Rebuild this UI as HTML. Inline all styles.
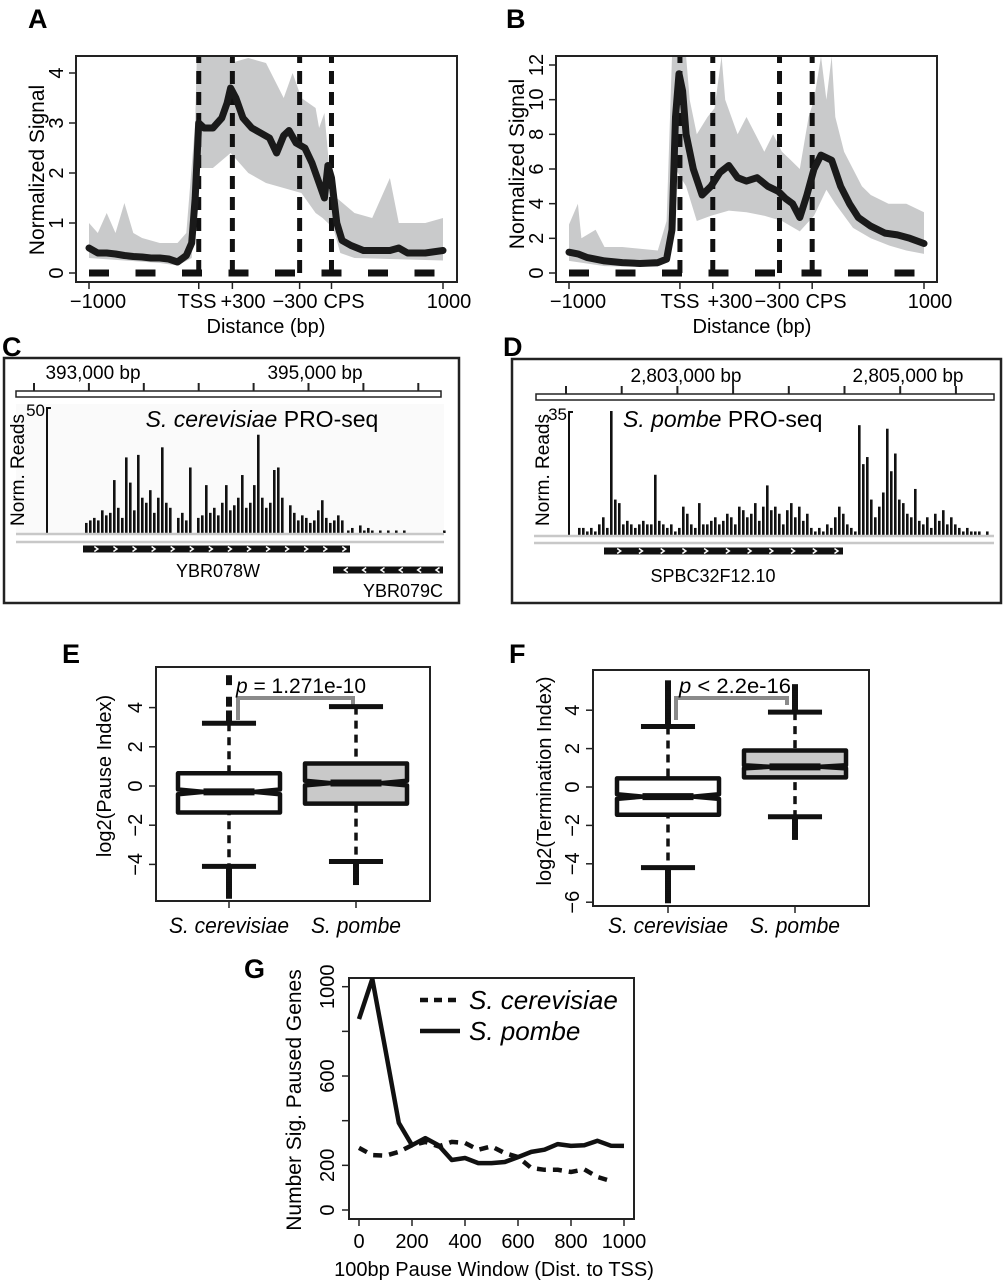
<!DOCTYPE html>
<html><head><meta charset="utf-8"><style>
html,body{margin:0;padding:0;background:#fff}
svg{display:block;font-family:"Liberation Sans",Arial,sans-serif}
</style></head><body>
<svg id="fig" width="1003" height="1280" viewBox="0 0 1003 1280" xmlns="http://www.w3.org/2000/svg">
<defs>
<clipPath id="clipA"><rect x="76" y="56" width="381" height="226"/></clipPath>
<clipPath id="clipB"><rect x="556" y="56" width="381" height="226"/></clipPath>
<clipPath id="clipG"><rect x="349" y="978" width="285" height="241"/></clipPath>
</defs>
<!-- Panel A -->
<g>
<text x="28" y="28" font-size="27" font-weight="bold">A</text>
<g id="plotA" clip-path="url(#clipA)"></g>
<rect x="76" y="56" width="381" height="226" fill="none" stroke="#222" stroke-width="2"/>
<g id="axA"></g>
<text transform="translate(44,170) rotate(-90)" text-anchor="middle" font-size="21">Normalized Signal</text>
<text x="266" y="333" text-anchor="middle" font-size="20">Distance (bp)</text>
</g>
<!-- Panel B -->
<g>
<text x="506" y="28" font-size="27" font-weight="bold">B</text>
<g id="plotB" clip-path="url(#clipB)"></g>
<rect x="556" y="56" width="381" height="226" fill="none" stroke="#222" stroke-width="2"/>
<g id="axB"></g>
<text transform="translate(524,164) rotate(-90)" text-anchor="middle" font-size="21">Normalized Signal</text>
<text x="752" y="333" text-anchor="middle" font-size="20">Distance (bp)</text>
</g>
<!-- Panel C -->
<g>
<text x="2" y="356" font-size="27" font-weight="bold">C</text>
<rect x="4" y="358" width="455" height="245" fill="#fff" stroke="#222" stroke-width="2.5"/>
<rect x="16" y="391" width="425" height="6" fill="#fff" stroke="#222" stroke-width="1.5"/>
<g id="rulerC"></g>
<text x="93" y="379" text-anchor="middle" font-size="19">393,000 bp</text>
<text x="315" y="379" text-anchor="middle" font-size="19">395,000 bp</text>
<rect x="16" y="404" width="428" height="129" fill="#fafafa"/>
<line x1="47" y1="407" x2="47" y2="533" stroke="#111" stroke-width="2"/>
<line x1="47" y1="408" x2="51" y2="408" stroke="#111" stroke-width="2"/>
<text x="45" y="416" text-anchor="end" font-size="17">50</text>
<text transform="translate(24,470) rotate(-90)" text-anchor="middle" font-size="19">Norm. Reads</text>
<text x="262" y="427" text-anchor="middle" font-size="23"><tspan font-style="italic">S. cerevisiae</tspan> PRO-seq</text>
<g id="barsC"></g>
<line x1="16" y1="534" x2="444" y2="534" stroke="#c8c8c8" stroke-width="2.5"/>
<line x1="16" y1="542" x2="444" y2="542" stroke="#c8c8c8" stroke-width="2.5"/>
<g id="geneC1"></g>
<text x="218" y="577" text-anchor="middle" font-size="18">YBR078W</text>
<g id="geneC2"></g>
<text x="443" y="597" text-anchor="end" font-size="18">YBR079C</text>
</g>
<!-- Panel D -->
<g>
<text x="503" y="356" font-size="27" font-weight="bold">D</text>
<rect x="512" y="359" width="489" height="244" fill="#fff" stroke="#222" stroke-width="2.5"/>
<rect x="536" y="394" width="458" height="6" fill="#fff" stroke="#222" stroke-width="1.5"/>
<g id="rulerD"></g>
<text x="686" y="382" text-anchor="middle" font-size="19">2,803,000 bp</text>
<text x="908" y="382" text-anchor="middle" font-size="19">2,805,000 bp</text>
<line x1="569" y1="411" x2="569" y2="535" stroke="#111" stroke-width="2"/>
<line x1="569" y1="412" x2="573" y2="412" stroke="#111" stroke-width="2"/>
<text x="567" y="420" text-anchor="end" font-size="17">35</text>
<text transform="translate(549,470) rotate(-90)" text-anchor="middle" font-size="19">Norm. Reads</text>
<text x="623" y="427" font-size="23"><tspan font-style="italic">S. pombe</tspan> PRO-seq</text>
<g id="barsD"></g>
<line x1="534" y1="536" x2="994" y2="536" stroke="#c8c8c8" stroke-width="2.5"/>
<line x1="534" y1="543" x2="994" y2="543" stroke="#c8c8c8" stroke-width="2.5"/>
<g id="geneD"></g>
<text x="713" y="582" text-anchor="middle" font-size="18">SPBC32F12.10</text>
</g>
<!-- Panel E -->
<g>
<text x="62" y="663" font-size="27" font-weight="bold">E</text>
<rect x="156" y="667" width="274" height="234" fill="none" stroke="#222" stroke-width="2"/>
<g id="plotE"></g>
<text transform="translate(111,776) rotate(-90)" text-anchor="middle" font-size="20">log2(Pause Index)</text>
<text x="236" y="693" font-size="21" textLength="130" lengthAdjust="spacingAndGlyphs"><tspan font-style="italic">p</tspan> = 1.271e-10</text>
<text x="229" y="933" text-anchor="middle" font-size="22" font-style="italic" textLength="120" lengthAdjust="spacingAndGlyphs">S. cerevisiae</text>
<text x="356" y="933" text-anchor="middle" font-size="22" font-style="italic" textLength="90" lengthAdjust="spacingAndGlyphs">S. pombe</text>
</g>
<!-- Panel F -->
<g>
<text x="509" y="663" font-size="27" font-weight="bold">F</text>
<rect x="593" y="670" width="276" height="236" fill="none" stroke="#222" stroke-width="2"/>
<g id="plotF"></g>
<text transform="translate(551,781) rotate(-90)" text-anchor="middle" font-size="20">log2(Termination Index)</text>
<text x="679" y="693" font-size="21" textLength="112" lengthAdjust="spacingAndGlyphs"><tspan font-style="italic">p</tspan> &lt; 2.2e-16</text>
<text x="668" y="933" text-anchor="middle" font-size="22" font-style="italic" textLength="120" lengthAdjust="spacingAndGlyphs">S. cerevisiae</text>
<text x="795" y="933" text-anchor="middle" font-size="22" font-style="italic" textLength="90" lengthAdjust="spacingAndGlyphs">S. pombe</text>
</g>
<!-- Panel G -->
<g>
<text x="244" y="978" font-size="27" font-weight="bold">G</text>
<rect x="349" y="978" width="285" height="241" fill="none" stroke="#222" stroke-width="2"/>
<g id="plotG" clip-path="url(#clipG)"></g>
<g id="axG"></g>
<text transform="translate(301,1100) rotate(-90)" text-anchor="middle" font-size="21">Number Sig. Paused Genes</text>
<text x="494" y="1276" text-anchor="middle" font-size="20">100bp Pause Window (Dist. to TSS)</text>
<line x1="420" y1="1000" x2="460" y2="1000" stroke="#111" stroke-width="4.5" stroke-dasharray="8 6"/>
<text x="469" y="1009" font-size="26" font-style="italic">S. cerevisiae</text>
<line x1="420" y1="1031" x2="460" y2="1031" stroke="#111" stroke-width="4.5"/>
<text x="469" y="1040" font-size="26" font-style="italic">S. pombe</text>
</g>
</svg>
<script>
// ---------- Data: panel A (bins 0..200 across -1000..1000 metagene) ----------
const aMeanX = [0,5,10,15,20,25,30,35,40,45,50,55,58,60,62,65,70,75,78,80,83,87,92,97,102,106,110,113,117,122,126,130,133,135,137,140,143,148,155,162,170,175,180,190,200];
const aMeanY = [0.5,0.4,0.4,0.38,0.35,0.33,0.32,0.3,0.3,0.28,0.22,0.35,0.6,1.5,3.0,2.9,2.9,3.1,3.4,3.7,3.5,3.1,2.9,2.8,2.7,2.4,2.75,2.85,2.6,2.5,2.2,1.8,1.5,2.15,1.9,1.0,0.65,0.55,0.45,0.45,0.45,0.5,0.4,0.4,0.45];
const aUpX = [0,5,10,15,20,25,30,40,50,55,60,61,78,80,90,100,110,115,120,128,130,133,136,140,150,160,170,175,190,200];
const aUpY = [1.0,0.8,1.2,0.8,1.4,0.8,0.7,0.6,0.6,0.8,3.0,4.5,4.5,4.2,4.3,4.2,3.5,4.0,3.5,3.3,2.9,3.2,2.0,1.5,1.2,1.1,1.9,1.0,1.0,1.1];
const aLoX = [0,20,40,50,58,61,70,80,90,100,110,120,128,132,138,142,150,200];
const aLoY = [0.3,0.25,0.2,0.15,0.3,2.1,2.1,2.4,2.0,1.8,1.7,1.6,1.2,1.1,0.9,0.4,0.3,0.25];
const aMarkers = [62,81,119,137];
const aYTicks = [0,1,2,3,4];
// ---------- Data: panel B ----------
const bMeanX = [0,5,10,20,30,40,50,55,58,60,62,64,66,70,75,80,85,90,95,100,106,112,118,122,126,130,134,138,142,148,153,158,163,170,178,185,192,200];
const bMeanY = [1.2,1.1,0.9,0.7,0.6,0.55,0.6,0.8,2.5,9,11.5,10.5,8,6,4.5,5.0,5.8,6.2,5.5,5.3,5.5,5.0,4.7,4.3,4.0,3.2,4.5,6.0,6.8,6.5,5.0,4.0,3.2,2.7,2.3,2.2,2.0,1.7];
const bUpX = [0,5,7,15,20,30,40,50,55,58,66,68,72,78,82,86,88,95,100,105,110,115,120,125,130,135,138,142,145,148,150,155,160,165,170,180,190,200];
const bUpY = [2.8,4,2,2.5,1.5,1.5,1.4,1.3,3,12.5,12.5,10,8,9,9.5,12.5,10,8,9,8,7,8,7,6.5,6,9,10,12.5,10,12.5,9,7,6,5,4.5,4,4,3.5];
const bLoX = [0,20,50,56,60,66,72,80,90,100,110,120,130,138,145,150,160,170,180,190,200];
const bLoY = [0.7,0.4,0.35,1,6,5,3,3.3,3.6,3.5,3.3,3,2.4,3.3,4.8,4,2.6,2,1.6,1.3,1.1];
const bMarkers = [62.5,81,118.6,137];
const bYTicks = [0,2,4,6,8,10,12];
// ---------- Data: tracks ----------
const cReads = [4,5,6,5,9,7,8,21,10,6,30,20,9,31,14,12,17,8,14,34,12,10,0,6,8,5,26,0,6,7,19,8,10,7,12,19,9,11,14,23,10,12,19,39,14,10,12,25,26,14,0,11,8,5,7,6,4,5,9,13,6,4,5,7,5];
const cTail = [1,2,0,3,1,2,1,0,1,0,1,0,1,0,1,0,0,0,0,0,0,0,0,0,1];
const dReads = [2,2,1,2,1,3,5,2,35,10,9,3,4,3,2,3,4,3,3,17,4,3,2,3,1,2,8,6,3,2,9,3,3,4,5,3,4,6,5,3,8,7,5,6,9,4,8,14,7,8,6,3,7,9,5,8,4,6,2,1,2,1,3,2,5,8,6,3,2,1,31,20,22,10,5,8,12,30,18,23,10,9,6,5,13,4,3,5,2,6,4,7,3,5,3,2,1,2,1,1,1,0,1];
// ---------- Data: box plots ----------
const eStats = [ {q1:-1.35,med:-0.3,q3:0.65,lo:-4.1,hi:3.2,notch:0.12}, {q1:-0.9,med:0.15,q3:1.15,lo:-3.85,hi:4.05,notch:0.12} ];
const eOutliers = [ [3.3,3.4,3.6,3.7,4.2,4.3,4.4,5.3,5.4,5.5,-4.2,-4.3,-4.4,-4.5,-4.6,-4.7,-4.8,-4.9,-5.0,-5.1,-5.2,-5.3,-5.4,-5.5,-5.6], [-3.9,-4.0,-4.1,-4.2,-4.3,-4.4,-4.5,-4.6,-4.7,-4.8,-4.9] ];
const fStats = [ {q1:-1.45,med:-0.5,q3:0.45,lo:-4.2,hi:3.15,notch:0.12}, {q1:0.5,med:1.05,q3:1.9,lo:-1.55,hi:3.9,notch:0.08} ];
const fOutliers = [ [3.3,3.4,3.6,3.7,3.9,4.0,4.2,4.3,4.4,4.6,4.7,4.9,5.0,5.2,5.3,5.4,-4.3,-4.4,-4.5,-4.6,-4.7,-4.8,-4.9,-5.0,-5.1,-5.2,-5.3,-5.4,-5.5,-5.6,-5.7,-5.8,-5.9], [4.0,4.1,4.2,4.3,4.4,4.5,4.6,4.7,4.8,4.9,5.0,5.1,5.2,-1.6,-1.7,-1.8,-1.9,-2.0,-2.1,-2.2,-2.3,-2.4,-2.5,-2.6] ];
const eTicks = [-4,-2,0,2,4];
const fTicks = [-6,-4,-2,0,2,4];
// ---------- Data: panel G ----------
const gX = [0,50,100,150,200,250,300,350,400,450,500,550,600,650,700,750,800,850,900,950,1000];
const gPombe = [855,1035,716,390,290,322,290,224,233,210,210,215,237,260,270,295,287,290,310,288,287];
const gCerevisiae = [278,246,243,260,290,305,285,305,300,270,285,255,237,188,180,180,170,182,148,130];
const gYTicks = [0,200,400,600,800,1000];
const gYLabels = ["0","200","","600","","1000"];
const gXTicks = [0,200,400,600,800,1000];

const NS = "http://www.w3.org/2000/svg";
function mk(parent, tag, attrs, txt){ const e=document.createElementNS(NS,tag); for(const k in attrs) e.setAttribute(k,attrs[k]); if(txt!==undefined) e.textContent=txt; parent.appendChild(e); return e; }
function pts(xs, ys, sx, sy){ return xs.map((x,i)=>sx(x).toFixed(1)+","+sy(ys[i]).toFixed(1)).join(" "); }

function profile(gId, axId, sx, sy, meanX, meanY, upX, upY, loX, loY, markers, yTicks, y0, xLabels){
  const g=document.getElementById(gId), ax=document.getElementById(axId);
  const upPts=upX.map((x,i)=>sx(x).toFixed(1)+","+sy(upY[i]).toFixed(1));
  const loPts=loX.map((x,i)=>sx(x).toFixed(1)+","+sy(loY[i]).toFixed(1)).reverse();
  const band=mk(g,"polygon",{points:upPts.concat(loPts).join(" "),fill:"#c9cacb"});
  
  
  const hz=mk(g,"line",{x1:sx(0),x2:sx(200),y1:sy(0),y2:sy(0),stroke:"#111","stroke-width":7,"stroke-dasharray":"20 26.5"});
  
  
  markers.forEach(m=>{
    const v=mk(g,"line",{x1:sx(m),x2:sx(m),y1:50,y2:290,stroke:"#111","stroke-width":5,"stroke-dasharray":"13 8"});
    
    
  });
  const ln=mk(g,"polyline",{points:pts(meanX,meanY,sx,sy),fill:"none",stroke:"#1a1a1a","stroke-width":7,"stroke-linejoin":"round","stroke-linecap":"round"});
  
  
  yTicks.forEach(t=>{
    const tk=mk(ax,"line",{x1:y0,x2:y0-7,y1:sy(t),y2:sy(t),stroke:"#222","stroke-width":1.5});
    
    
    const lb=mk(ax,"text",{transform:"translate("+(y0-13)+","+sy(t)+") rotate(-90)","text-anchor":"middle","font-size":20},String(t));
    
    
  });
  [0].concat(markers,[200]).forEach(t=>{
    const tk=mk(ax,"line",{x1:sx(t),x2:sx(t),y1:282,y2:289,stroke:"#222","stroke-width":1.5});
    
    
  });
  xLabels.forEach(l=>{
    const lb=mk(ax,"text",{x:l[1],y:308,"text-anchor":"middle","font-size":20},l[0]);
    
    
  });
}
const sxA=b=>89+b*354/200, syA=v=>273-v*50;
profile("plotA","axA",sxA,syA,aMeanX,aMeanY,aUpX,aUpY,aLoX,aLoY,aMarkers,aYTicks,76,
  [["\u22121000",98],["TSS",197],["+300",243],["\u2212300",295],["CPS",344],["1000",449]]);
const sxB=b=>569+b*355/200, syB=v=>273-v*208/12;
profile("plotB","axB",sxB,syB,bMeanX,bMeanY,bUpX,bUpY,bLoX,bLoY,bMarkers,bYTicks,556,
  [["\u22121000",578],["TSS",680],["+300",730],["\u2212300",777],["CPS",826],["1000",930]]);

// rulers
function ruler(id, x0, step, n, yTop, yBot){
  const g=document.getElementById(id);
  for(let i=0;i<n;i++){
    const t=mk(g,"line",{x1:x0+i*step,x2:x0+i*step,y1:yTop,y2:yBot,stroke:"#222","stroke-width":2});
    
    
  }
}
ruler("rulerC",34,54.9,8,383,391);
ruler("rulerD",566,55.7,8,386,394);

// track bars
function bars(id, vals, x0, step, base, pxPer){
  const g=document.getElementById(id);
  vals.forEach((v,i)=>{
    if(v<=0) return;
    const h=v*pxPer;
    const r=mk(g,"rect",{x:x0+i*step,y:base-h,width:2.6,height:h,fill:"#111"});
    
    
  });
}
bars("barsC",cReads,85,4,533,126/50);
bars("barsC",cTail,347,4,533,126/50);
bars("barsD",dReads,578,4,535,124/35);

// genes
function gene(id, x0, x1, y, dir, n){
  const g=document.getElementById(id);
  const r=mk(g,"rect",{x:x0,y:y-3.5,width:x1-x0,height:7,fill:"#111"});
  
  
  for(let i=0;i<n;i++){
    const cx=x0+(i+0.7)*(x1-x0)/n;
    const p=mk(g,"polyline",{points:dir>0?`${cx-2},${y-2.5} ${cx+1.5},${y} ${cx-2},${y+2.5}`:`${cx+2},${y-2.5} ${cx-1.5},${y} ${cx+2},${y+2.5}`,fill:"none",stroke:"#fff","stroke-width":1.5});
    
    
  }
}
gene("geneC1",83,350,549,1,14);
gene("geneC2",333,443,570,-1,6);
gene("geneD",604,843,551,1,11);

// box plots
function boxplot(id, stats, outliers, ticks, sy, centers, halfW, fills, frameX, frameBottom, bracket){
  const g=document.getElementById(id);
  ticks.forEach(t=>{
    const tk=mk(g,"line",{x1:frameX,x2:frameX-7,y1:sy(t),y2:sy(t),stroke:"#222","stroke-width":1.5});
    
    
    const lb=mk(g,"text",{transform:"translate("+(frameX-14)+","+sy(t)+") rotate(-90)","text-anchor":"middle","font-size":20},t<0?"\u2212"+(-t):String(t));
    
    
  });
  const br=mk(g,"polyline",{points:bracket,fill:"none",stroke:"#8a8a8a","stroke-width":4});
  
  
  stats.forEach((s,i)=>{
    const cx=centers[i], x0=cx-halfW, x1=cx+halfW, nw=halfW*0.5;
    const wh=mk(g,"line",{x1:cx,x2:cx,y1:sy(s.hi),y2:sy(s.lo),stroke:"#111","stroke-width":3.5,"stroke-dasharray":"8 6"});
    
    
    outliers[i].forEach(o=>{
      const r=mk(g,"rect",{x:cx-3,y:sy(o)-3,width:6,height:6,fill:"#111"});
      
      
    });
    [s.hi,s.lo].forEach(c=>{
      const cap=mk(g,"line",{x1:cx-halfW*0.53,x2:cx+halfW*0.53,y1:sy(c),y2:sy(c),stroke:"#111","stroke-width":5});
      
      
    });
    const nl=s.med-s.notch, nh=s.med+s.notch;
    const poly=[[x0,s.q1],[x0,nl],[x0+nw,s.med],[x0,nh],[x0,s.q3],[x1,s.q3],[x1,nh],[x1-nw,s.med],[x1,nl],[x1,s.q1]].map(p=>p[0].toFixed(1)+","+sy(p[1]).toFixed(1)).join(" ");
    const bx=mk(g,"polygon",{points:poly,fill:fills[i],stroke:"#111","stroke-width":4.5,"stroke-linejoin":"round"});
    
    
    const md=mk(g,"line",{x1:x0+nw,x2:x1-nw,y1:sy(s.med),y2:sy(s.med),stroke:"#111","stroke-width":7});
    
    
    const xt=mk(g,"line",{x1:cx,x2:cx,y1:frameBottom,y2:frameBottom+7,stroke:"#222","stroke-width":1.5});
    
    
  });
}
const syE=v=>786-v*19.6, syF=v=>787-v*19.2;
boxplot("plotE",eStats,eOutliers,eTicks,syE,[229,356],51,["#fff","#c9c9c9"],156,901,"238,720 238,698 353,698 353,705");
boxplot("plotF",fStats,fOutliers,fTicks,syF,[668,795],51,["#fff","#c9c9c9"],593,906,"676,720 676,698 787,698 787,705");

// panel G
const sxG=v=>359+v*0.265, syG=v=>1210-v*0.2233;
const gG=document.getElementById("plotG"), axG=document.getElementById("axG");
const lc=mk(gG,"polyline",{points:pts(gX.slice(0,gCerevisiae.length),gCerevisiae,sxG,syG),fill:"none",stroke:"#111","stroke-width":4.5,"stroke-dasharray":"9 7"});


const lp=mk(gG,"polyline",{points:pts(gX,gPombe,sxG,syG),fill:"none",stroke:"#111","stroke-width":4.5,"stroke-linejoin":"round"});


gYTicks.forEach((t,i)=>{
  const tk=mk(axG,"line",{x1:349,x2:342,y1:syG(t),y2:syG(t),stroke:"#222","stroke-width":1.5});
  
  
  const lb=mk(axG,"text",{transform:"translate(334,"+syG(t)+") rotate(-90)","text-anchor":"middle","font-size":20},gYLabels[i]);
  
  
});
gXTicks.forEach(t=>{
  const tk=mk(axG,"line",{x1:sxG(t),x2:sxG(t),y1:1219,y2:1226,stroke:"#222","stroke-width":1.5});
  
  
  const lb=mk(axG,"text",{x:sxG(t),y:1248,"text-anchor":"middle","font-size":20},String(t));
  
  
});
</script>
</body></html>
